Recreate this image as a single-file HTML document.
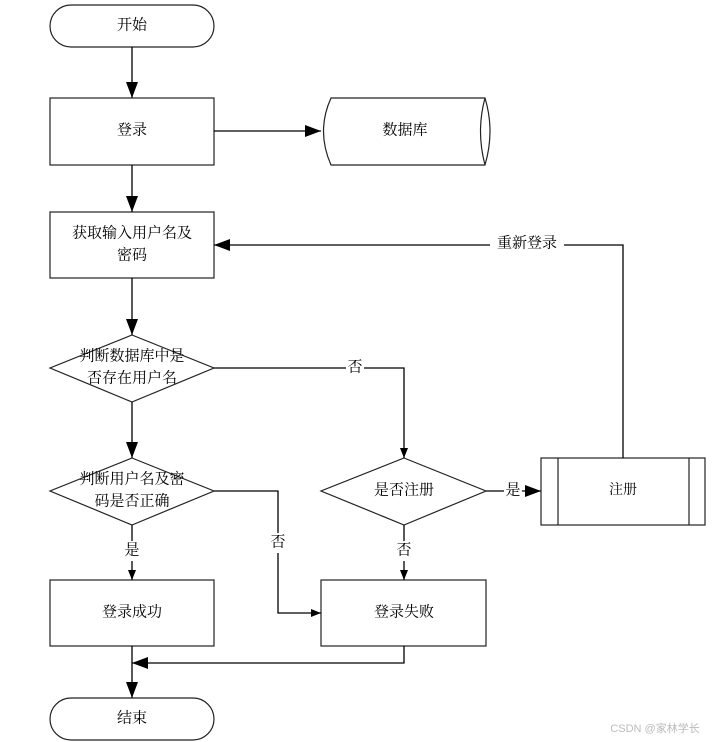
<!DOCTYPE html>
<html><head><meta charset="utf-8"><style>
html,body{margin:0;padding:0;background:#fff;}
svg{display:block;}
text{font-family:"Liberation Serif","Noto Serif CJK SC",serif;font-size:15px;fill:#000;text-anchor:middle;dominant-baseline:middle;}
</style></head><body>
<svg width="715" height="742" viewBox="0 0 715 742" xmlns="http://www.w3.org/2000/svg">
<defs><marker id="a" markerWidth="10" markerHeight="8" refX="10" refY="4" orient="auto" markerUnits="userSpaceOnUse"><path d="M0,0 L10,4 L0,8 z" fill="#000"/></marker>
<marker id="b" markerWidth="16" markerHeight="12" refX="16" refY="6" orient="auto" markerUnits="userSpaceOnUse"><path d="M0,0 L16,6 L0,12 z" fill="#000"/></marker></defs>
<g fill="#fff" stroke="#222" stroke-width="1.2">
<rect x="50" y="5" width="164" height="42" rx="21"/>
<rect x="50" y="98" width="164" height="67"/>
<path d="M331,98 L485,98 Q495,131 485,165 L331,165 Q316,131 331,98 Z"/>
<path d="M485,98 Q476,131 485,165"/>
<rect x="50" y="212" width="164" height="66"/>
<polygon points="132,335 214,368 132,402 50,368"/>
<polygon points="132,458 214,491 132,525 50,491"/>
<polygon points="404,458 486,491 404,525 321,491"/>
<rect x="541" y="458" width="164" height="67"/>
<line x1="558" y1="458" x2="558" y2="525"/>
<line x1="689" y1="458" x2="689" y2="525"/>
<rect x="50" y="580" width="164" height="66"/>
<rect x="321" y="580" width="165" height="66"/>
<rect x="50" y="698" width="164" height="42" rx="21"/>
</g>
<g fill="none" stroke="#000" stroke-width="1.3">
<line x1="132" y1="47" x2="132" y2="98" marker-end="url(#b)"/>
<line x1="214" y1="131" x2="321" y2="131" marker-end="url(#b)"/>
<line x1="132" y1="165" x2="132" y2="212" marker-end="url(#b)"/>
<line x1="132" y1="278" x2="132" y2="335" marker-end="url(#b)"/>
<line x1="132" y1="402" x2="132" y2="458" marker-end="url(#b)"/>
<polyline points="214,368 404,368 404,458" marker-end="url(#a)"/>
<polyline points="214,491 278,491 278,613 321,613" marker-end="url(#a)"/>
<line x1="132" y1="525" x2="132" y2="580" marker-end="url(#a)"/>
<line x1="404" y1="525" x2="404" y2="580" marker-end="url(#a)"/>
<line x1="486" y1="491" x2="541" y2="491" marker-end="url(#b)"/>
<polyline points="623,458 623,245 214,245" marker-end="url(#b)"/>
<polyline points="404,646 404,663 132,663" marker-end="url(#b)"/>
<line x1="132" y1="646" x2="132" y2="698" marker-end="url(#b)"/>
</g>
<g>
<rect x="346" y="358" width="18" height="20" fill="#fff"/>
<rect x="269" y="533" width="18" height="20" fill="#fff"/>
<rect x="123" y="541" width="18" height="20" fill="#fff"/>
<rect x="395" y="541" width="18" height="20" fill="#fff"/>
<rect x="504" y="481" width="18" height="20" fill="#fff"/>
<rect x="490" y="235" width="74" height="20" fill="#fff"/>
</g>
<text x="132" y="26">开始</text>
<text x="132" y="131">登录</text>
<text x="405" y="131">数据库</text>
<text x="132" y="234">获取输入用户名及</text>
<text x="132" y="256">密码</text>
<text x="132" y="357">判断数据库中是</text>
<text x="132" y="379">否存在用户名</text>
<text x="132" y="480">判断用户名及密</text>
<text x="132" y="502">码是否正确</text>
<text x="404" y="491">是否注册</text>
<text x="623" y="491" style="font-size:14px">注册</text>
<text x="132" y="613">登录成功</text>
<text x="404" y="613">登录失败</text>
<text x="132" y="719">结束</text>
<text x="355" y="368">否</text>
<text x="278" y="543">否</text>
<text x="132" y="551">是</text>
<text x="404" y="551">否</text>
<text x="513" y="491">是</text>
<text x="527" y="244">重新登录</text>
<text x="655" y="729" style="font-size:11px;fill:#bbb;font-family:'Liberation Sans','Noto Sans CJK SC',sans-serif">CSDN @家林学长</text>
</svg>
</body></html>
